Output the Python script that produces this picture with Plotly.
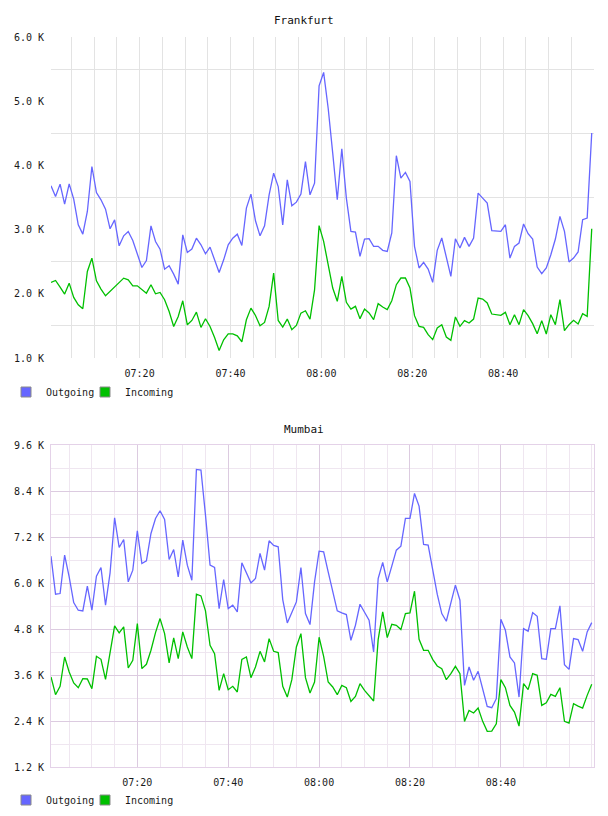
import pandas as pd
import plotly.graph_objects as go

# ---------------- data ----------------
series_names = ["Outgoing", "Incoming"]

frankfurt_out = [
    3682, 3515, 3708, 3396, 3713, 3474, 3074, 2929, 3282, 3983,
    3578, 3464, 3318, 3012, 3152, 2747, 2903, 2971, 2830, 2633,
    2410, 2519, 3059, 2815, 2696, 2384, 2436, 2306, 2151, 2919,
    2644, 2696, 2867, 2763, 2623, 2727, 2514, 2332, 2529, 2763,
    2867, 2929, 2753, 3334, 3552, 3137, 2903, 3059, 3542, 3879,
    3671, 3074, 3775, 3370, 3427, 3552, 4060, 3542, 3723, 5240,
    5448, 4890, 4192, 3465, 4260, 3491, 2973, 2962, 2583, 2853,
    2858, 2739, 2739, 2677, 2661, 2947, 4151, 3803, 3891, 3751,
    2739, 2402, 2490, 2386, 2178, 2677, 2869, 2583, 2272, 2858,
    2713, 2879, 2739, 2869, 3569, 3491, 3414, 2983, 2983, 2973,
    3076, 2557, 2739, 2791, 3087, 2936, 2853, 2417, 2313, 2402,
    2609, 2853, 3206, 2973, 2495, 2557, 2651, 3154, 3180, 4504,
]
frankfurt_in = [
    2177, 2208, 2104, 1995, 2166, 1943, 1829, 1767, 2348, 2555,
    2203, 2073, 1969, 2036, 2104, 2166, 2244, 2218, 2125, 2125,
    2073, 2010, 2140, 2000, 2021, 1907, 1725, 1491, 1647, 1891,
    1517, 1585, 1715, 1476, 1611, 1491, 1320, 1118, 1284, 1377,
    1377, 1346, 1253, 1595, 1777, 1663, 1502, 1554, 1803, 2322,
    1585, 1481, 1606, 1440, 1507, 1699, 1736, 1606, 2062, 3062,
    2817, 2479, 2090, 1883, 2272, 1867, 1763, 1805, 1613, 1763,
    1701, 1597, 1846, 1794, 1753, 1893, 2142, 2246, 2246, 2090,
    1659, 1493, 1478, 1364, 1286, 1467, 1519, 1327, 1275, 1639,
    1493, 1582, 1545, 1607, 1934, 1919, 1857, 1685, 1675, 1664,
    1711, 1519, 1675, 1519, 1753, 1659, 1535, 1379, 1582, 1374,
    1675, 1519, 1909, 1426, 1519, 1587, 1530, 1690, 1649, 3014,
]
mumbai_out = [
    6700, 5707, 5725, 6726, 6160, 5490, 5290, 5272, 5917, 5290,
    6178, 6404, 5420, 6265, 7702, 6927, 7136, 6030, 6335, 7362,
    6509, 6578, 7292, 7684, 7885, 7658, 6613, 6874, 6160, 7118,
    6465, 6073, 8964, 8947, 7771, 6465, 6404, 5333, 6091, 5333,
    5420, 5246, 6526, 6265, 6004, 6117, 6770, 6335, 7101, 6979,
    6944, 5568, 4959, 5229, 5507, 6404, 5203, 4915, 6030, 6831,
    6813, 6291, 5768, 5272, 5220, 5176, 4506, 4898, 5446, 5246,
    5028, 4201, 6117, 6535, 6030, 6439, 6857, 6961, 7684, 7684,
    8337, 8006, 7005, 6987, 6335, 5707, 5203, 5002, 5481, 5943,
    5551, 3330, 3809, 3461, 3696, 3243, 2782, 2747, 2982, 5055,
    4767, 4070, 3914, 3025, 4811, 4741, 5229, 5133, 4027, 4009,
    4811, 4811, 5403, 3870, 3748, 4549, 4523, 4218, 4724, 4967,
]
mumbai_in = [
    3548, 3086, 3304, 4070, 3679, 3391, 3269, 3504, 3496, 3243,
    4088, 4009, 3487, 4140, 4880, 4697, 4854, 3783, 3983, 4941,
    3766, 3879, 4245, 4706, 5072, 4680, 3914, 4567, 4027, 4724,
    4332, 4027, 5707, 5664, 5272, 4375, 4158, 3200, 3635, 3217,
    3304, 3156, 4009, 4070, 3531, 3809, 4218, 3940, 4549, 4218,
    4184, 3304, 3025, 3478, 4332, 4680, 3531, 3130, 3417, 4585,
    4088, 3417, 3287, 3086, 3330, 3269, 2912, 3043, 3374, 3200,
    3052, 2921, 4523, 5246, 4576, 4924, 4898, 4785, 5203, 5220,
    5786, 4532, 4245, 4245, 4009, 3835, 3765, 3478, 3635, 3826,
    3635, 2390, 2677, 2608, 2738, 2390, 2129, 2138, 2329, 3478,
    3269, 2808, 2634, 2268, 3374, 3217, 3635, 3591, 2808, 2877,
    3095, 3043, 3269, 2390, 2346, 2851, 2790, 2738, 3069, 3356,
]

DAY = "2024-05-14 "
frankfurt_times = pd.date_range(DAY + "07:00:30", periods=len(frankfurt_out), freq="min")
mumbai_times = pd.date_range(DAY + "07:01:00", periods=len(mumbai_out), freq="min")
frankfurt_xrange = [DAY + "07:00:30", DAY + "09:00:00"]
mumbai_xrange = [DAY + "07:01:00", DAY + "09:00:30"]

x_tick_labels = ["07:20", "07:40", "08:00", "08:20", "08:40"]
x_tickvals = [DAY + t for t in x_tick_labels]

frankfurt_yticks = [1000, 2000, 3000, 4000, 5000, 6000]
frankfurt_ylabels = ["1.0 K", "2.0 K", "3.0 K", "4.0 K", "5.0 K", "6.0 K"]
frankfurt_ygrid = [1500, 2500, 3500, 4500, 5500]
mumbai_yticks = [1200, 2400, 3600, 4800, 6000, 7200, 8400, 9600]
mumbai_ylabels = ["1.2 K", "2.4 K", "3.6 K", "4.8 K", "6.0 K", "7.2 K", "8.4 K", "9.6 K"]
mumbai_ygrid = [1800, 3000, 4200, 5400, 6600, 7800, 9000]

# ---------------- style ----------------
W, H = 608, 816
COLORS = ["#6666ff", "#00c000"]
FONT = "DejaVu Sans Mono"
TXT = "#1a1a1a"
MONO = dict(family=FONT, size=10, color=TXT)


def py(px):  # pixel row -> paper fraction
    return 1 - px / H


x_dom = [51 / W, 594 / W]

fig = go.Figure()

panels = [
    ("x", "y", ["legend", "legend2"], frankfurt_times, [frankfurt_out, frankfurt_in]),
    ("x2", "y2", ["legend3", "legend4"], mumbai_times, [mumbai_out, mumbai_in]),
]
for xa, ya, lgs, t, series in panels:
    for name, vals, col in zip(series_names, series, COLORS):
        fig.add_trace(go.Scatter(x=t, y=vals, mode="lines", name=name,
                                 line=dict(color=col, width=1.3),
                                 xaxis=xa, yaxis=ya, showlegend=False,
                                 hoverinfo="skip"))
    for name, col, lg in zip(series_names, COLORS, lgs):
        fig.add_trace(go.Scatter(x=[None], y=[None], mode="markers", name=name,
                                 marker=dict(symbol="square", size=10, color=col,
                                             line=dict(color="#8a8a8a", width=1)),
                                 xaxis=xa, yaxis=ya, legend=lg, showlegend=True))

GRID_F = "#e3e3e3"
GRID_M_MAJ = "#dccbe0"
GRID_M_MIN = "#efe6f0"
BORDER_M = "#e4d2e8"

xcommon = dict(type="date", tickmode="array", tickvals=x_tickvals, ticktext=x_tick_labels,
               ticks="outside", ticklen=6, tickcolor="rgba(0,0,0,0)",
               tickfont=MONO, zeroline=False, domain=x_dom, fixedrange=True,
               automargin=False)

legend_common = dict(orientation="h", xanchor="left", yanchor="middle",
                     font=MONO, bgcolor="rgba(0,0,0,0)",
                     itemclick=False, itemdoubleclick=False)

fig.update_layout(
    width=W, height=H,
    margin=dict(l=0, r=0, t=0, b=0, autoexpand=False),
    paper_bgcolor="white", plot_bgcolor="white",
    showlegend=True,
    xaxis=dict(**xcommon, anchor="y", range=frankfurt_xrange,
               showgrid=True, gridcolor=GRID_F, gridwidth=1,
               minor=dict(tickmode="linear", dtick=5 * 60 * 1000, tick0=DAY + "07:00:00",
                          showgrid=True, gridcolor=GRID_F, gridwidth=1),
               showline=False),
    yaxis=dict(domain=[py(358), py(37)], anchor="x", range=[1000, 6000],
               tickmode="array", tickvals=frankfurt_yticks, ticktext=frankfurt_ylabels,
               showgrid=False, zeroline=False, showline=False, automargin=False,
               ticks="outside", ticklen=4, tickcolor="rgba(0,0,0,0)",
               tickfont=MONO, fixedrange=True,
               minor=dict(tickmode="array", tickvals=frankfurt_ygrid,
                          showgrid=True, gridcolor=GRID_F, gridwidth=1)),
    xaxis2=dict(**xcommon, anchor="y2", range=mumbai_xrange,
                showgrid=True, gridcolor=GRID_M_MAJ, gridwidth=1,
                minor=dict(tickmode="linear", dtick=5 * 60 * 1000, tick0=DAY + "07:00:00",
                           showgrid=True, gridcolor=GRID_M_MIN, gridwidth=1),
                showline=True, linecolor=BORDER_M, linewidth=1, mirror=True),
    yaxis2=dict(domain=[py(767), py(445)], anchor="x2", range=[1200, 9600],
                tickmode="array", tickvals=mumbai_yticks, ticktext=mumbai_ylabels,
                showgrid=True, gridcolor=GRID_M_MAJ, gridwidth=1, automargin=False,
                zeroline=False, showline=True, linecolor=BORDER_M, linewidth=1, mirror=True,
                ticks="outside", ticklen=4, tickcolor="rgba(0,0,0,0)",
                tickfont=MONO, fixedrange=True,
                minor=dict(tickmode="array", tickvals=mumbai_ygrid,
                           showgrid=True, gridcolor=GRID_M_MIN, gridwidth=1)),
    legend=dict(**legend_common, x=6 / W, y=py(392)),
    legend2=dict(**legend_common, x=85 / W, y=py(392)),
    legend3=dict(**legend_common, x=6 / W, y=py(800)),
    legend4=dict(**legend_common, x=85 / W, y=py(800)),
    annotations=[
        dict(text="Frankfurt", x=0.5, y=py(20), xref="paper", yref="paper",
             showarrow=False, xanchor="center", yanchor="middle",
             font=dict(family=FONT, size=11, color="#111111")),
        dict(text="Mumbai", x=0.5, y=py(429), xref="paper", yref="paper",
             showarrow=False, xanchor="center", yanchor="middle",
             font=dict(family=FONT, size=11, color="#111111")),
    ],
)

fig.write_html("out.html")
